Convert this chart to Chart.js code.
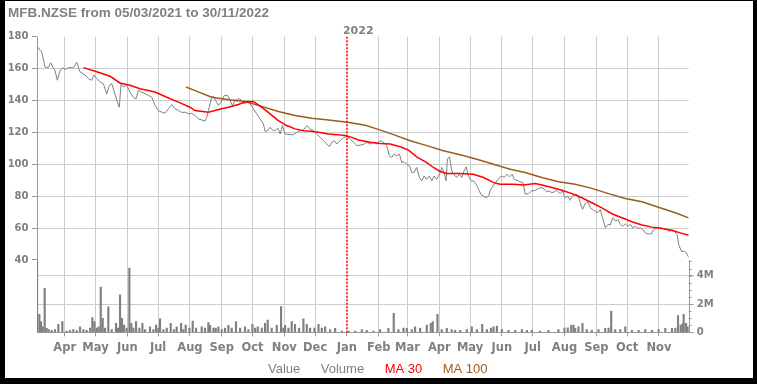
<!DOCTYPE html>
<html>
<head>
<meta charset="utf-8">
<title>MFB.NZSE</title>
<script src="https://cdn.jsdelivr.net/npm/chart.js@4.4.0/dist/chart.umd.min.js"></script>
<style>
    html, body { margin: 0; padding: 0; background: #000; }
    #cadre { position: absolute; left: 5px; top: 1px; width: 748px; height: 377px; background: #fff; overflow: hidden; }
    #graphique { display: block; }
</style>
</head>
<body>
<div id="cadre"><canvas id="graphique" width="748" height="377"></canvas></div>
<script>
// Période affichée
var dateDebut = '2021-03-05';
var dateFin = '2022-11-30';
var titre = 'MFB.NZSE from 05/03/2021 to 30/11/2022';

// Axe des mois
var moisLabels = ['Apr', 'May', 'Jun', 'Jul', 'Aug', 'Sep', 'Oct', 'Nov', 'Dec', 'Jan',
    'Feb', 'Mar', 'Apr', 'May', 'Jun', 'Jul', 'Aug', 'Sep', 'Oct', 'Nov'];
var moisDebuts = ['2021-04-01', '2021-05-01', '2021-06-01', '2021-07-01', '2021-08-01',
    '2021-09-01', '2021-10-01', '2021-11-01', '2021-12-01', '2022-01-01', '2022-02-01',
    '2022-03-01', '2022-04-01', '2022-05-01', '2022-06-01', '2022-07-01', '2022-08-01',
    '2022-09-01', '2022-10-01', '2022-11-01'];
var anneeDebut = '2022-01-01';
var anneeLabel = '2022';

// Graduations
var prixTicks = [40, 60, 80, 100, 120, 140, 160, 180];
var volTicks = [0, 2, 4];

// Cours (jours depuis le début, valeur)
var prixJours = [0, 2.9, 4.5, 6.2, 7.8, 11, 13.3, 15.3, 17.5, 19.8, 22.4, 25, 27.3, 30.5, 35.4,
    38.7, 41.9, 46.8, 50, 53.3, 55.6, 58.2, 61.4, 64.7, 67.9, 70.5, 72.8, 76, 78.3, 80.2,
    81.9, 84.1, 87.4, 90.6, 93.9, 96.5, 98.8, 102, 105.3, 108.5, 111.8, 115, 118.3, 121.5,
    124.8, 128, 131.3, 134.5, 137.8, 141, 144.3, 147.5, 150.7, 154, 157.2, 160.5, 163.7,
    165.4, 167, 170.2, 171.9, 174.1, 176.7, 179.3, 182.6, 185.8, 188.1, 190.4, 193, 195.6,
    197.9, 200.1, 202.7, 205.3, 207.6, 210.8, 214.1, 217.3, 220.6, 222.2, 224.8, 227.1,
    229.4, 232, 234.6, 236.9, 239.1, 241.7, 246.6, 249.9, 253.1, 256.4, 259.6, 262.9, 266.1,
    269.4, 272.6, 275.9, 279.1, 282.4, 285, 287.2, 289.8, 292.1, 295.4, 298.6, 301.9, 305.2,
    308.4, 311.7, 314.9, 318.2, 321.3, 324.6, 327.8, 331, 334.3, 337.5, 340.8, 343.4, 345.7,
    348, 350.6, 353.2, 355.4, 357.7, 360.3, 362.9, 365.2, 367.4, 370, 372.6, 374.9, 377.2,
    379.8, 382.4, 384.7, 386.9, 389.5, 392.1, 394.4, 396.7, 398.6, 399.9, 401.9, 404.1,
    406.4, 409, 411.6, 413.9, 416.2, 418.1, 420.4, 423, 425.3, 427.9, 430.2, 432.5, 435.1,
    437.7, 440, 441.6, 443.2, 445.5, 448.1, 450.7, 453, 455.3, 457.9, 460.5, 462.8, 465.1,
    467.7, 470.3, 473.5, 475.8, 478.9, 482.1, 485.4, 488.6, 491.9, 494.5, 496.7, 499.1,
    501.7, 504.2, 506.4, 509.7, 512, 514.6, 517.2, 519.5, 521.7, 524.4, 527, 529.2, 531.5,
    534.1, 536.7, 539, 541.3, 543.9, 546.5, 548.8, 551.1, 553.7, 556.3, 558.6, 560.9, 563.5,
    566.1, 568.4, 570.6, 573.2, 575.8, 578.1, 580.4, 583, 585.6, 587.9, 590.2, 592.8, 595.4,
    598.6, 600.9, 604.2, 607.4, 610.7, 613.9, 616.2, 618.8, 621.4, 623.7, 625.3, 627.9,
    631.2, 633.4, 635];
var prixValeurs = [174, 171.6, 170.5, 166, 161, 160.6, 163.6, 161, 159, 152.7, 158.5, 160.6,
    159.4, 160.6, 160.6, 164, 158, 156, 153.7, 152.7, 156, 153.7, 151.6, 150.6, 144, 149.5,
    150.6, 144, 139, 135.8, 150.6, 148.5, 149.5, 145.3, 142, 141, 146.4, 145.3, 144.2, 143.2,
    142, 137, 133.7, 132.7, 132, 134.8, 137.5, 134.8, 133.7, 132.5, 132.7, 131.6, 132, 130.6,
    128.5, 127.8, 127, 129.5, 133.7, 142, 142.6, 140, 136.9, 139, 143.2, 143.2, 140, 136.9,
    140, 141, 141, 139, 138, 140, 138, 134.8, 131.6, 128.5, 125.3, 120.7, 121.1, 123.2,
    121.5, 121.1, 122.8, 119, 124.3, 119, 118.6, 118.6, 120, 121.1, 121.5, 124.3, 122.2,
    121.1, 119, 116.9, 114.8, 112.7, 111, 113.8, 114.8, 112.7, 114.8, 116.9, 117.3, 115.9,
    113.8, 111.7, 112, 112.5, 113.8, 112.7, 113.8, 112.7, 114.8, 113.8, 111.7, 105.3, 104.3,
    106.4, 105.3, 106.4, 101.1, 101.7, 100, 99, 94.8, 94.8, 98, 91.7, 89.6, 92.7, 90.6, 92.7,
    89.6, 92.7, 90.6, 93.8, 98, 94.8, 89.6, 103.2, 104.7, 95.9, 93.4, 91.7, 93.8, 91.7, 95.9,
    98.4, 92.7, 89.6, 89.6, 87.5, 84.3, 81.2, 80.1, 79, 80.1, 83.3, 85.4, 87.5, 89.6, 91.7,
    92.7, 91.7, 93.8, 92.1, 93.8, 90.6, 90, 89.1, 88.5, 81.2, 81.6, 83.3, 83.7, 84.9, 85.4,
    84.3, 82.8, 83.3, 82.2, 82.8, 83.7, 81.6, 83.3, 79, 80.1, 77.4, 80.1, 81.2, 80.7, 75.9,
    71.7, 75.3, 76.5, 72.8, 71.7, 70.6, 69.6, 71.7, 66.5, 60.2, 62.3, 61.9, 66.5, 64.4, 65.4,
    62.3, 61.2, 62.7, 61.2, 62.3, 60.2, 61.2, 59.7, 60.2, 59.1, 57, 56.4, 56.4, 59.1, 60.2,
    60.2, 59.7, 59.1, 58, 59.1, 58, 55.9, 49.6, 45.4, 45.4, 43.7, 41.6];

// Moyenne mobile 30
var ma30Jours = [45.2, 58.2, 71.2, 80.9, 90.6, 100.4, 115, 126.4, 137.8, 149.1, 154, 167,
    173.4, 179.9, 186.4, 196.2, 202.7, 210.8, 218.9, 227.1, 235.2, 243.3, 251.4, 259.6,
    267.7, 275.9, 284, 292.1, 300.2, 306.8, 313.3, 324.6, 334.3, 344.1, 353.8, 362, 370,
    379.8, 386.3, 392.8, 399.3, 412.3, 425.3, 435.1, 444.8, 451.3, 464.3, 474.1, 485.4,
    491.9, 501.7, 511.4, 521.2, 530.9, 540.6, 550.4, 560.2, 569.9, 579.7, 589.4, 599.2, 609,
    618.8, 626.9, 635];
var ma30Valeurs = [160.6, 158, 155.2, 151, 149.5, 147.4, 145.3, 142, 139, 135.8, 133.7, 132.7,
    133.7, 134.8, 135.8, 137.5, 139, 139.4, 135.8, 131.6, 127.4, 124.3, 122.2, 121.1, 120.7,
    120, 119, 118.6, 118, 116.9, 115.2, 113.8, 113.1, 112.7, 111, 108.9, 104.7, 101.1, 98,
    95.5, 94.2, 94.2, 93.8, 91.7, 88.5, 87.5, 87.5, 87, 87.9, 87, 85.4, 83.7, 81.6, 79, 75.9,
    72.7, 69, 66.5, 64, 61.9, 60.6, 59.7, 58.5, 57, 55.5];

// Moyenne mobile 100
var ma100Jours = [145.2, 154, 170.2, 186.7, 202.7, 218.9, 235.2, 251.4, 267.7, 284, 302.5,
    319.8, 331, 347.3, 363.6, 379.8, 396, 412.3, 428.6, 444.8, 461.1, 475.6, 491.9, 508.1,
    524.4, 540.6, 556.9, 573.2, 589.4, 605.6, 621.9, 635];
var ma100Valeurs = [148.5, 146.2, 142, 140.5, 139.4, 136.3, 133.1, 130.6, 128.9, 127.8, 126.4,
    124.5, 122.2, 118.6, 114.8, 111.7, 108.5, 106, 103.2, 100, 96.9, 94.8, 91.7, 89.1, 87.5,
    84.9, 81.6, 78.6, 76.5, 73.1, 69.6, 66.4];

// Volume (millions)
var volJours = [0, 2.3, 3.9, 5.5, 7.5, 9.4, 11.4, 14.3, 17.5, 20.8, 24.7, 28.9, 32.2, 35.4,
    38.7, 41.9, 45.2, 48.4, 51.7, 53.9, 55.9, 58.2, 60.1, 62.1, 64, 66.3, 69.5, 72.8, 77,
    78.9, 80.9, 82.8, 84.8, 87.4, 90, 91.9, 93.9, 96.5, 99.7, 102.7, 105.3, 110.1, 113.4,
    116, 118.3, 119.9, 123.1, 126.4, 130.3, 133.5, 136.1, 140.4, 142.6, 144.9, 148.5, 151.7,
    155, 160.5, 163.7, 167, 168.6, 171.9, 174.1, 176.7, 180, 183.2, 186.5, 189.7, 193.9,
    197.9, 202.7, 206, 209.9, 212.5, 215.1, 219, 222.2, 224.8, 228.7, 233.6, 237.8, 240.1,
    241.7, 245, 248.2, 251.4, 255.4, 259.6, 262.9, 266.1, 270.4, 274.3, 277.5, 280.8, 285.6,
    290.5, 297, 303.5, 310, 316.5, 321.3, 327.8, 334.3, 342.4, 347.6, 352.2, 357.1, 360.3,
    365.2, 368.4, 373.3, 379.8, 383.7, 385.6, 390.2, 394.4, 399.3, 404.1, 407.4, 412.3,
    418.8, 423.7, 428.6, 433.8, 438.4, 442.3, 444.8, 448.1, 453, 459.5, 466, 472.5, 477.4,
    482.1, 490.2, 498.4, 508.1, 513.9, 517.2, 520.5, 522.8, 524.4, 527.6, 531.5, 535.7,
    540.6, 547.1, 553.6, 556.9, 559.5, 563.4, 568.3, 573.2, 579.7, 586.2, 592.7, 599.2,
    605.7, 612.2, 618.7, 622, 624.6, 627.2, 629.1, 630.1, 632.4, 634.3];
var volValeurs = [5.06, 1.28, 0.76, 0.4, 3.1, 0.28, 0.2, 0.15, 0.2, 0.57, 0.76, 0.1, 0.15, 0.2,
    0.12, 0.4, 0.2, 0.15, 0.3, 1.04, 0.76, 0.3, 0.4, 3.2, 1.0, 0.3, 1.8, 0.2, 0.64, 0.3, 2.65,
    1.0, 0.52, 0.3, 4.54, 0.64, 0.3, 0.76, 0.3, 0.64, 0.2, 0.4, 0.2, 0.52, 0.3, 0.95, 0.2, 0.3,
    0.64, 0.2, 0.4, 0.64, 0.2, 0.52, 0.3, 0.8, 0.3, 0.4, 0.3, 0.69, 0.5, 0.3, 0.3, 0.4, 0.2,
    0.3, 0.5, 0.3, 0.76, 0.3, 0.4, 0.2, 0.57, 0.3, 0.4, 0.3, 0.64, 0.87, 0.3, 0.5, 1.82, 0.3,
    0.5, 0.3, 0.76, 0.57, 0.3, 0.95, 0.57, 0.3, 0.3, 0.57, 0.3, 0.4, 0.2, 0.28, 0.1, 0.1, 0.1,
    0.2, 0.15, 0.1, 0.2, 0.28, 1.35, 0.2, 0.3, 0.28, 0.2, 0.4, 0.3, 0.52, 0.64, 0.76, 1.28,
    0.2, 0.28, 0.2, 0.15, 0.15, 0.2, 0.4, 0.2, 0.57, 0.2, 0.3, 0.4, 0.45, 0.2, 0.15, 0.15,
    0.2, 0.15, 0.15, 0.1, 0.15, 0.2, 0.3, 0.33, 0.5, 0.52, 0.28, 0.4, 0.64, 0.2, 0.15, 0.2,
    0.28, 0.3, 1.51, 0.2, 0.2, 0.4, 0.15, 0.15, 0.2, 0.15, 0.2, 0.28, 0.28, 0.3, 1.18, 0.52,
    0.6, 1.28, 0.64, 0.4];

// Légende
var legendeNoms = ['Value', 'Volume', 'MA 30', 'MA 100'];
var legendeCouleurs = ['#808080', '#808080', '#ff0000', '#9b5c1f'];

// Fonction pour convertir une date en jours depuis le début
function jour(texte) {
    var p = texte.split('-');
    var d0 = dateDebut.split('-');
    return (Date.UTC(+p[0], +p[1] - 1, +p[2]) - Date.UTC(+d0[0], +d0[1] - 1, +d0[2])) / 86400000;
}

// Fonction pour assembler des points {x, y}
function points(jours, valeurs) {
    return jours.map(function (j, i) {
        return { x: j, y: valeurs[i] };
    });
}

// Réglages de mise en page
var gris = '#808080';
var grille = '#cccccc';
var traitAxe = '#9a9a9a';
var prixMin = -5.4;
var volMax = 20.85;
var volHaut = 5.1;

// Plugin pour la ligne 2022 et les axes partiels
var extras = {
    id: 'extras',
    afterDatasetsDraw: function (chart) {
        var ctx = chart.ctx;
        var a = chart.chartArea;
        var y = chart.scales.y;
        var yv = chart.scales.yv;
        var x = chart.scales.x;
        var px = x.getPixelForValue(jour(anneeDebut));
        ctx.save();
        // ligne pointillée rouge du 1er janvier
        ctx.strokeStyle = '#ff0000';
        ctx.lineWidth = 1.6;
        ctx.setLineDash([2, 1.5]);
        ctx.beginPath();
        ctx.moveTo(px, a.top);
        ctx.lineTo(px, a.bottom);
        ctx.stroke();
        ctx.setLineDash([]);
        ctx.strokeStyle = traitAxe;
        ctx.lineWidth = 1;
        ctx.beginPath();
        // axe gauche du cours
        ctx.moveTo(Math.round(a.left) + 0.5, y.getPixelForValue(180));
        ctx.lineTo(Math.round(a.left) + 0.5, y.getPixelForValue(40));
        // axe droit du volume
        ctx.moveTo(Math.round(a.right) + 0.5, yv.getPixelForValue(volHaut));
        ctx.lineTo(Math.round(a.right) + 0.5, a.bottom);
        // petites graduations du volume
        for (var v = 0.5; v <= volHaut; v += 0.5) {
            var py = Math.round(yv.getPixelForValue(v)) + 0.5;
            ctx.moveTo(a.right, py);
            ctx.lineTo(a.right + 3, py);
        }
        ctx.stroke();
        // étiquette de l'année
        ctx.fillStyle = gris;
        ctx.font = 'bold 11px "DejaVu Sans"';
        ctx.textAlign = 'left';
        ctx.textBaseline = 'middle';
        ctx.fillText(anneeLabel, px - 4, a.top - 6);
        ctx.restore();
    }
};

// Fonction pour configurer le graphique
function setupChart() {
    var ctx = document.getElementById('graphique');
    var fontTicks = { family: 'DejaVu Sans', weight: 'bold', size: 10 };

    new Chart(ctx, {
        type: 'line',
        data: {
            datasets: [{
                label: 'Value',
                data: points(prixJours, prixValeurs),
                yAxisID: 'y',
                borderColor: gris,
                borderWidth: 1,
                pointRadius: 0,
                order: 3
            }, {
                type: 'bar',
                label: 'Volume',
                data: points(volJours, volValeurs),
                yAxisID: 'yv',
                backgroundColor: gris,
                barThickness: 1.5,
                order: 4
            }, {
                label: 'MA 30',
                data: points(ma30Jours, ma30Valeurs),
                yAxisID: 'y',
                borderColor: '#ff0000',
                borderWidth: 1.5,
                pointRadius: 0,
                order: 1
            }, {
                label: 'MA 100',
                data: points(ma100Jours, ma100Valeurs),
                yAxisID: 'y',
                borderColor: '#9b5c1f',
                borderWidth: 1.5,
                pointRadius: 0,
                order: 2
            }]
        },
        options: {
            responsive: false,
            animation: false,
            events: [],
            layout: { padding: { left: 3, right: 22, top: 0, bottom: -7.7 } },
            scales: {
                x: {
                    type: 'linear',
                    min: 0,
                    max: jour(dateFin),
                    offset: false,
                    afterBuildTicks: function (s) {
                        s.ticks = moisDebuts.map(function (d) { return { value: jour(d) }; });
                    },
                    afterFit: function (s) { s.height = 26.3; },
                    ticks: {
                        autoSkip: false,
                        maxRotation: 0,
                        padding: 5,
                        color: gris,
                        font: { family: 'DejaVu Sans', weight: 'bold', size: 11.5 },
                        callback: function (v, i) { return moisLabels[i]; }
                    },
                    grid: {
                        color: function (c) {
                            return (c.tick && c.tick.value === jour(anneeDebut)) ? 'rgba(0,0,0,0)' : grille;
                        },
                        offset: false,
                        tickLength: 4,
                        tickColor: traitAxe
                    },
                    border: { display: true, color: traitAxe }
                },
                y: {
                    position: 'left',
                    min: prixMin,
                    max: 180,
                    afterBuildTicks: function (s) {
                        s.ticks = prixTicks.map(function (v) { return { value: v }; });
                    },
                    afterFit: function (s) { s.width = 29; },
                    ticks: { padding: 3.5, color: gris, font: fontTicks },
                    grid: {
                        color: function (c) {
                            var v = c.tick ? c.tick.value : 0;
                            return (v > 40 && v < 180) ? grille : 'rgba(0,0,0,0)';
                        },
                        tickLength: 5,
                        tickColor: traitAxe
                    },
                    border: { display: false }
                },
                yv: {
                    position: 'right',
                    min: 0,
                    max: volMax,
                    afterBuildTicks: function (s) {
                        s.ticks = volTicks.map(function (v) { return { value: v }; });
                    },
                    afterFit: function (s) { s.width = 42.3; },
                    ticks: {
                        padding: 3,
                        color: gris,
                        font: fontTicks,
                        callback: function (v) { return v === 0 ? '0' : v + 'M'; }
                    },
                    grid: {
                        color: function (c) {
                            return (c.tick && c.tick.value > 0) ? grille : 'rgba(0,0,0,0)';
                        },
                        tickLength: 5,
                        tickColor: traitAxe
                    },
                    border: { display: false }
                }
            },
            plugins: {
                title: {
                    display: true,
                    text: titre,
                    align: 'start',
                    color: gris,
                    font: { family: 'Liberation Sans', weight: 'bold', size: 13.5 },
                    padding: { top: 4.5, bottom: 15 }
                },
                legend: {
                    position: 'bottom',
                    labels: {
                        boxWidth: 10,
                        boxHeight: 0,
                        padding: 4,
                        font: { family: 'Liberation Sans', size: 13 },
                        generateLabels: function () {
                            return legendeNoms.map(function (n, i) {
                                return {
                                    text: n,
                                    fontColor: legendeCouleurs[i],
                                    fillStyle: 'rgba(0,0,0,0)',
                                    strokeStyle: 'rgba(0,0,0,0)',
                                    lineWidth: 0,
                                    hidden: false,
                                    datasetIndex: i
                                };
                            });
                        }
                    }
                },
                tooltip: { enabled: false }
            }
        },
        plugins: [extras]
    });
}

setupChart();
</script>
</body>
</html>
